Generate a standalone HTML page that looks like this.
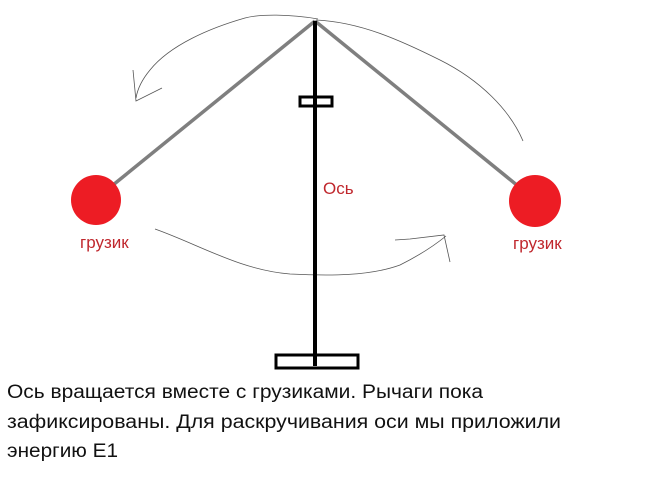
<!DOCTYPE html>
<html><head><meta charset="utf-8"><style>
html,body{margin:0;padding:0;background:#fff;width:650px;height:483px;overflow:hidden}
</style></head><body>
<svg width="650" height="483" viewBox="0 0 650 483" xmlns="http://www.w3.org/2000/svg" font-family="Liberation Sans, sans-serif">
<g fill="none" stroke="#555" stroke-width="0.8">
<path d="M318 19 C290 14 260 14 245 18 C210 28 170 45 150 70 C140 82 137 92 136 98"/>
<path d="M133 70 L136 101 L162 88"/>
<path d="M316 20 C360 22 400 40 440 60 C480 80 510 110 523 141"/>
<path d="M155 229 C200 245 240 270 290 274 C330 276 370 276 400 265 C420 255 435 245 446 236"/>
<path d="M395 240 L410 239 L444 235 L450 262"/>
</g>
<line x1="315" y1="21" x2="113" y2="185" stroke="#7f7f7f" stroke-width="3.5"/>
<line x1="315" y1="21" x2="518" y2="186" stroke="#7f7f7f" stroke-width="3.5"/>
<line x1="315" y1="21" x2="315" y2="366" stroke="#000" stroke-width="4"/>
<rect x="300" y="97" width="32" height="9" fill="none" stroke="#000" stroke-width="3"/>
<rect x="276" y="355" width="82" height="13" fill="none" stroke="#000" stroke-width="3"/>
<circle cx="96" cy="200" r="25" fill="#ed1c24"/>
<circle cx="535" cy="201" r="26" fill="#ed1c24"/>
<text x="323" y="194" font-size="17" fill="#c0272d">Ось</text>
<text x="80" y="248" font-size="17" fill="#c0272d">грузик</text>
<text x="513" y="249" font-size="17" fill="#c0272d">грузик</text>
<g font-size="19" fill="#111">
<text x="7" y="398" textLength="476" lengthAdjust="spacingAndGlyphs">Ось вращается вместе с грузиками. Рычаги пока</text>
<text x="7" y="428" textLength="554" lengthAdjust="spacingAndGlyphs">зафиксированы. Для раскручивания оси мы приложили</text>
<text x="7" y="457" textLength="111" lengthAdjust="spacingAndGlyphs">энергию Е1</text>
</g>
</svg>
</body></html>
